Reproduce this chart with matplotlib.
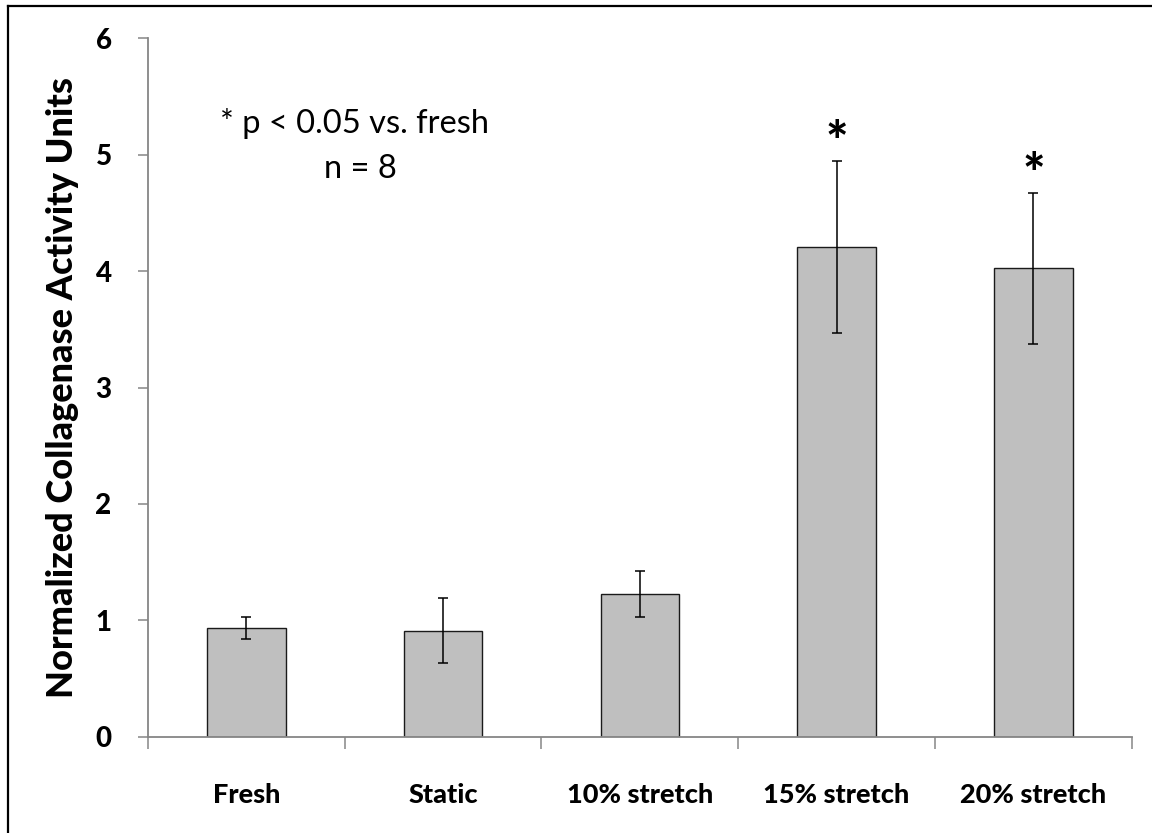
import matplotlib
matplotlib.use("Agg")
import matplotlib.pyplot as plt
from matplotlib.lines import Line2D

plt.rcParams['font.family'] = ['Lato', 'DejaVu Sans']

categories = ["Fresh", "Static", "10% stretch", "15% stretch", "20% stretch"]
means = [0.935, 0.91, 1.225, 4.21, 4.025]
errors = [0.097, 0.28, 0.20, 0.74, 0.65]
significant = [False, False, False, True, True]
y_ticks = [0, 1, 2, 3, 4, 5, 6]

W, H = 1152, 833
fig = plt.figure(figsize=(W / 100, H / 100), dpi=100)
ax = fig.add_axes([148 / W, 1 - 736.7 / H, (1131.7 - 148) / W, (736.7 - 38.3) / H])

n = len(categories)
centers = [i + 0.5 for i in range(n)]
ax.bar(centers, means, width=0.4, color="#BFBFBF", edgecolor="#1a1a1a",
       linewidth=1.0, zorder=2)
ax.errorbar(centers, means, yerr=errors, fmt="none", ecolor="black",
            elinewidth=1.1, capsize=3.6, capthick=1.1, zorder=3)

for c, m, e, s in zip(centers, means, errors, significant):
    if s:
        ax.text(c, m + e + 0.14, "*", ha="center", va="center",
                fontsize=38, fontweight="black", color="black")

ax.set_xlim(0, n)
ax.set_ylim(0, 6)
ax.set_yticks(y_ticks)
ax.set_yticklabels([str(t) for t in y_ticks], fontsize=20, fontweight="black")

# boundaries between groups carry the tick marks, group names sit on minor ticks
ax.set_xticks(range(n + 1))
ax.set_xticklabels([""] * (n + 1))
ax.set_xticks(centers, minor=True)
ax.set_xticklabels(categories, minor=True, fontsize=19.5, fontweight="black")
ax.tick_params(axis="x", which="minor", length=0, pad=33)
ax.tick_params(axis="x", which="major", length=8.5, width=1.1, color="#868686",
               direction="out")
ax.tick_params(axis="y", length=7.2, width=1.1, color="#868686", pad=19)

for side in ("top", "right"):
    ax.spines[side].set_visible(False)
for side in ("left", "bottom"):
    ax.spines[side].set_color("#868686")
    ax.spines[side].set_linewidth(1.3)

ax.set_ylabel("Normalized Collagenase Activity Units", fontsize=26,
              fontweight="black", labelpad=12)

ax.text(1.05, 5.27, "* p < 0.05 vs. fresh", ha="center", va="center", fontsize=23.5)
ax.text(1.08, 4.88, "n = 8", ha="center", va="center", fontsize=23.5)

# outer frame on left and top
fig.add_artist(Line2D([7.5 / W, 7.5 / W], [0, 1 - 6 / H], transform=fig.transFigure,
                      color="black", linewidth=1.6))
fig.add_artist(Line2D([7.5 / W, 1], [1 - 6 / H, 1 - 6 / H], transform=fig.transFigure,
                      color="black", linewidth=1.6))

fig.savefig("out.png", dpi=100)
